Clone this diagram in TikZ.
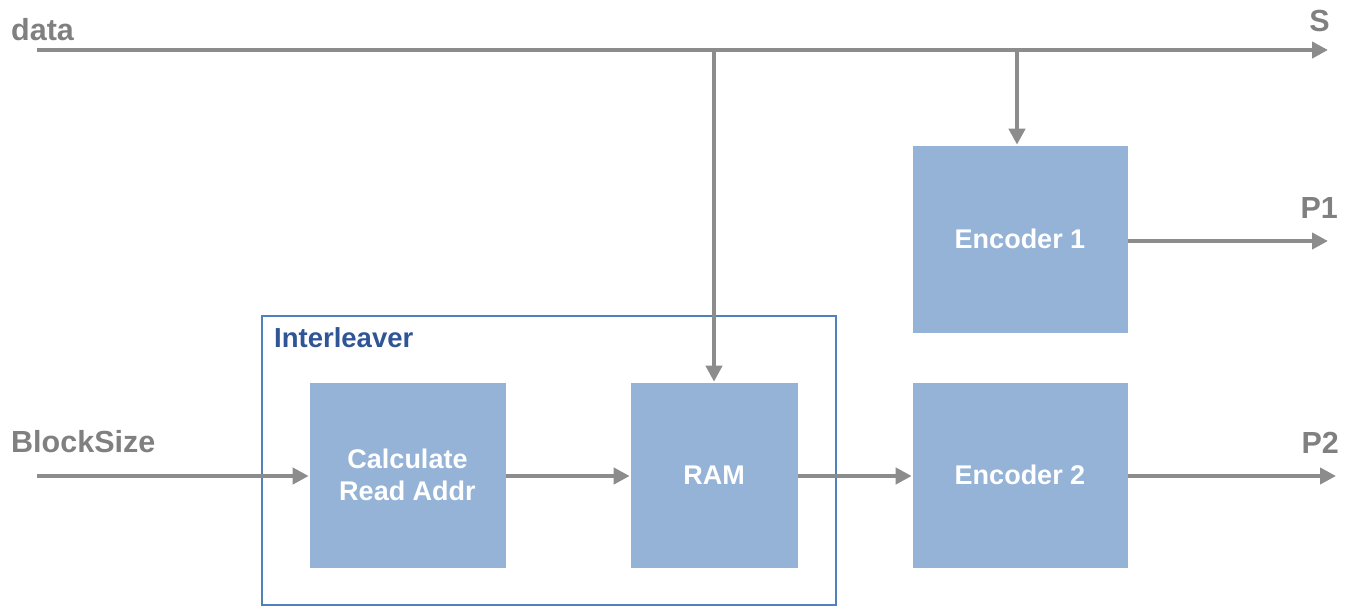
\documentclass[tikz,border=0pt]{standalone}
\usepackage{fontspec}
\setmainfont{Liberation Sans}
\usetikzlibrary{arrows.meta}
\definecolor{linegray}{HTML}{8C8C8C}
\definecolor{labelgray}{HTML}{808080}
\definecolor{boxfill}{HTML}{95B3D7}
\definecolor{frameblue}{HTML}{4F81BD}
\definecolor{titleblue}{HTML}{2F5597}
\begin{document}
\begin{tikzpicture}[x=1pt,y=-1pt,
  blk/.style={fill=boxfill, draw=white, line width=0.6pt, text=white, font=\fontsize{27}{32}\selectfont\bfseries, align=center, inner sep=0pt},
  sig/.style={draw=linegray, line width=4.5pt, -{Triangle[length=16pt,width=16pt]}},
  lbl/.style={text=labelgray, font=\fontsize{30.5}{34}\selectfont\bfseries, inner sep=0pt},
  frame/.style={draw=frameblue, line width=2pt}
]
\useasboundingbox (0,0) rectangle (1347,606);
% interleaver frame
\draw[frame] (262,316) rectangle (836,605);
\node[anchor=west, text=titleblue, font=\fontsize{27.5}{30}\selectfont\bfseries, inner sep=0pt] (ilv) at (274,338) {Interleaver};
% blocks
\node[blk, minimum width=197pt, minimum height=186pt] (calc) at (407.5,475) {Calculate\\Read Addr};
\node[blk, minimum width=168pt, minimum height=186pt] (ram) at (714,475) {RAM};
\node[blk, minimum width=216pt, minimum height=188pt] (enc1) at (1020,239) {Encoder 1};
\node[blk, minimum width=216pt, minimum height=186pt] (enc2) at (1020,475) {Encoder 2};
% labels
\node[lbl, anchor=west] (ldata) at (11,30) {data};
\node[lbl, anchor=east] (lS) at (1330,21) {S};
\node[lbl, anchor=east] (lP1) at (1338,208) {P1};
\node[lbl, anchor=east] (lP2) at (1339,443) {P2};
\node[lbl, anchor=west] (lbs) at (11,442) {BlockSize};
% coordinates
\coordinate (din) at (37,50);
\coordinate (sout) at (1328,50);
\coordinate (tapA) at (714,50);
\coordinate (tapB) at (1017,50);
\coordinate (bsin) at (37,476);
\coordinate (p1out) at (1328,241);
\coordinate (p2out) at (1336,476);
% connectors
\draw[sig] (din) -- (sout);
\draw[sig] (tapA) -- (tapA |- ram.north);
\draw[sig] (tapB) -- (tapB |- enc1.north);
\draw[sig] (bsin) -- (bsin -| calc.west);
\draw[sig] (calc.east |- bsin) -- (ram.west |- bsin);
\draw[sig] (ram.east |- bsin) -- (enc2.west |- bsin);
\draw[sig] (enc2.east |- bsin) -- (p2out);
\draw[sig] (enc1.east |- p1out) -- (p1out);
\end{tikzpicture}
\end{document}
